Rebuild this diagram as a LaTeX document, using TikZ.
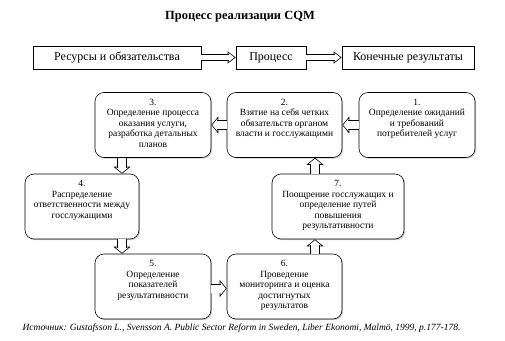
\documentclass[tikz,border=0pt]{standalone}
\usepackage{fontspec}
\setmainfont{Liberation Serif}
\usetikzlibrary{arrows.meta,shadows}

\newcommand{\stagetext}[2]{\parbox[c][52pt][t]{#1}{\centering #2}}

\begin{document}
\begin{tikzpicture}[x=1pt, y=-1pt, line width=0.6pt, font=\fontsize{9.5}{10.5}\selectfont,
  shadowed/.style={drop shadow={shadow xshift=1.2pt, shadow yshift=-1.2pt, opacity=.4}},
  top/.style={draw, fill=white, shadowed, minimum height=23pt, inner sep=0pt,
    font=\fontsize{12}{14}\selectfont},
  stage/.style={draw, fill=white, shadowed, rounded corners=9pt, minimum height=65pt, inner sep=0pt},
  barrow/.style={-{Triangle[fill=white, length=7pt, width=17pt]},
    postaction={draw=black, arrows=-, double=white, double distance=8pt, shorten >=6pt}},
  tarrow/.style={-{Triangle[fill=white, length=8pt, width=12pt]},
    postaction={draw=black, arrows=-, double=white, double distance=5pt, shorten >=7pt}}]
  \useasboundingbox (0,0) rectangle (505,340);
  \node[font=\bfseries\fontsize{12.5}{14}\selectfont] (title) at (240,17) {Процесс реализации CQM};
  % top row
  \node[top, minimum width=168pt] (res) at (117,57.5) {Ресурсы и обязательства};
  \node[top, minimum width=70pt]  (proc) at (271,57.5) {Процесс};
  \node[top, minimum width=132pt] (fin) at (408,57.5) {Конечные результаты};
  \draw[tarrow] (res) -- (proc);
  \draw[tarrow] (proc) -- (fin);
  % cycle
  \node[stage, minimum width=116pt] (s1) at (417,125)
    {\stagetext{110pt}{1.\\Определение ожиданий\\и требований\\потребителей услуг}};
  \node[stage, minimum width=115pt] (s2) at (284.5,125)
    {\stagetext{110pt}{2.\\Взятие на себя четких\\обязательств органом\\власти и госслужащими}};
  \node[stage, minimum width=116pt] (s3) at (153,125)
    {\stagetext{110pt}{3.\\Определение процесса\\оказания услуги,\\разработка детальных\\планов}};
  \node[stage, minimum width=114pt] (s4) at (82,206.5)
    {\stagetext{108pt}{4.\\Распределение\\ответственности между\\госслужащими}};
  \node[stage, minimum width=116pt] (s5) at (153,286.5)
    {\stagetext{110pt}{5.\\Определение\\показателей\\результативности}};
  \node[stage, minimum width=115pt] (s6) at (284.5,286.5)
    {\stagetext{110pt}{6.\\Проведение\\мониторинга и оценка\\достигнутых\\результатов}};
  \node[stage, minimum width=132pt] (s7) at (338,206.5)
    {\stagetext{126pt}{7.\\Поощрение госслужащих и\\определение путей\\повышения\\результативности}};
  \coordinate (left) at (122,0);
  \coordinate (right) at (315,0);
  \draw[barrow] (s1) -- (s2);
  \draw[barrow] (s2) -- (s3);
  \draw[barrow] (s3.south -| left) -- (s4.north -| left);
  \draw[barrow] (s4.south -| left) -- (s5.north -| left);
  \draw[barrow] ([yshift=-2pt]s5.east) -- ([yshift=-2pt]s6.west);
  \draw[barrow] (s6.north -| right) -- (s7.south -| right);
  \draw[barrow] (s7.north -| right) -- (s2.south -| right);
  \node[anchor=west, font=\itshape\fontsize{9.5}{10}\selectfont] (src) at (19,328)
    {Источник: Gustafsson L., Svensson A. Public Sector Reform in Sweden, Liber Ekonomi, Malmö, 1999, p.177-178.};
\end{tikzpicture}
\end{document}
